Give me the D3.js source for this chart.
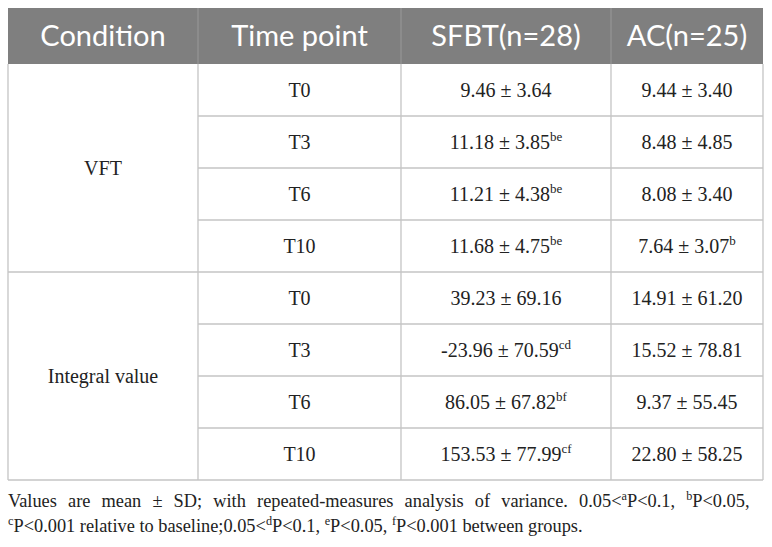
<!DOCTYPE html>
<html>
<head>
<meta charset="utf-8">
<script src="https://cdn.jsdelivr.net/npm/d3@7"></script>
<style>
  body { margin: 0; background: #fff; }
  svg { display: block; }
</style>
</head>
<body>
<svg id="table"></svg>
<script>
// table content
var headers = ["Condition", "Time point", "SFBT(n=28)", "AC(n=25)"];
var conditions = ["VFT", "Integral value"];
var timePoints = ["T0", "T3", "T6", "T10"];

// SFBT group, rows: VFT T0..T10 then Integral T0..T10
var sfbtMean = [9.46, 11.18, 11.21, 11.68, 39.23, -23.96, 86.05, 153.53];
var sfbtSD   = [3.64, 3.85, 4.38, 4.75, 69.16, 70.59, 67.82, 77.99];
var sfbtSup  = ["", "be", "be", "be", "", "cd", "bf", "cf"];

// AC group
var acMean = [9.44, 8.48, 8.08, 7.64, 14.91, 15.52, 9.37, 22.80];
var acSD   = [3.40, 4.85, 3.40, 3.07, 61.20, 78.81, 55.45, 58.25];
var acSup  = ["", "", "", "b", "", "", "", ""];

// footnote, pieces are [text, isSuperscript]
var note1 = [["Values are mean \u00b1 SD; with repeated-measures analysis of variance. 0.05<", 0], ["a", 1],
             ["P<0.1, ", 0], ["b", 1], ["P<0.05,", 0]];
var note2 = [["c", 1], ["P<0.001 relative to baseline;0.05<", 0], ["d", 1], ["P<0.1, ", 0], ["e", 1],
             ["P<0.05, ", 0], ["f", 1], ["P<0.001 between groups.", 0]];

var width = 772, height = 547;
var colEdges = [8, 198, 401, 611, 763];
var headTop = 8, headBottom = 64, tableBottom = 480;
var lineColor = "#c4c4c4";
var serif = "'Liberation Serif', 'Times New Roman', serif";
// plain hyphen for negatives, as in the source table
var fmt = d3.formatLocale({decimal: ".", thousands: ",", grouping: [3], currency: ["", ""], minus: "-"}).format(".2f");

var svg = d3.select("#table").attr("width", width).attr("height", height);
svg.append("rect").attr("width", width).attr("height", height).attr("fill", "#fff");

// one band per body row
var rows = d3.range(sfbtMean.length);
var y = d3.scaleBand().domain(rows).range([headBottom, tableBottom]);
var colMid = function(i) { return (colEdges[i] + colEdges[i + 1]) / 2; };

// header band
svg.append("rect")
  .attr("x", colEdges[0]).attr("y", headTop)
  .attr("width", colEdges[4] - colEdges[0]).attr("height", headBottom - headTop)
  .attr("fill", "#7f7f7f");

svg.selectAll(".head")
  .data(headers)
  .enter().append("text")
  .attr("class", "head")
  .attr("x", function(d, i) { return colMid(i); })
  .attr("y", headTop + 38)
  .attr("text-anchor", "middle")
  .attr("fill", "#fff")
  .style("font-family", "Lato, 'Open Sans', sans-serif")
  .style("font-size", "29px")
  .text(function(d) { return d; });

// header vertical separators
svg.selectAll(".headSep")
  .data(colEdges.slice(1, 4))
  .enter().append("line")
  .attr("x1", function(d) { return d; }).attr("x2", function(d) { return d; })
  .attr("y1", headTop).attr("y2", headBottom)
  .attr("stroke", "#9a9a9a").attr("stroke-width", 1);

// body grid: row lines (columns 1..3 on every row, full width at the group break)
var g = svg.append("g").attr("stroke", lineColor).attr("stroke-width", 1.3);
rows.forEach(function(r) {
  if (r === 0) return;
  var full = r % timePoints.length === 0;
  g.append("line")
    .attr("x1", full ? colEdges[0] : colEdges[1]).attr("x2", colEdges[4])
    .attr("y1", y(r)).attr("y2", y(r));
});
g.append("line").attr("x1", colEdges[0]).attr("x2", colEdges[4])
  .attr("y1", tableBottom).attr("y2", tableBottom);
colEdges.forEach(function(x) {
  g.append("line").attr("x1", x).attr("x2", x)
    .attr("y1", headBottom).attr("y2", tableBottom);
});

// condition labels spanning their rows
svg.selectAll(".cond")
  .data(conditions)
  .enter().append("text")
  .attr("class", "cond")
  .attr("x", colMid(0))
  .attr("y", function(d, i) {
    var top = y(i * timePoints.length);
    var bot = y((i + 1) * timePoints.length - 1) + y.bandwidth();
    return (top + bot) / 2 + 7;
  })
  .attr("text-anchor", "middle")
  .attr("fill", "#222")
  .style("font-family", serif)
  .style("font-size", "20px")
  .text(function(d) { return d; });

// body cells
function addCell(col, r, mainText, sup) {
  var t = svg.append("text")
    .attr("x", colMid(col))
    .attr("y", y(r) + y.bandwidth() / 2 + 7)
    .attr("text-anchor", "middle")
    .attr("fill", "#222")
    .style("font-family", serif)
    .style("font-size", "20px");
  t.append("tspan").text(mainText);
  if (sup) {
    t.append("tspan").attr("dy", -8).style("font-size", "13px").text(sup);
  }
}

rows.forEach(function(r) {
  addCell(1, r, timePoints[r % timePoints.length], "");
  addCell(2, r, fmt(sfbtMean[r]) + " \u00b1 " + fmt(sfbtSD[r]), sfbtSup[r]);
  addCell(3, r, fmt(acMean[r]) + " \u00b1 " + fmt(acSD[r]), acSup[r]);
});

// footnote
function addNote(pieces, baseline) {
  var t = svg.append("text")
    .attr("x", colEdges[0])
    .attr("y", baseline)
    .attr("fill", "#222")
    .style("font-family", serif)
    .style("font-size", "19.5px");
  var raised = false;
  pieces.forEach(function(p) {
    var dy = 0;
    if (p[1] && !raised) { dy = -7; raised = true; }
    else if (!p[1] && raised) { dy = 7; raised = false; }
    var s = t.append("tspan").attr("dy", dy).text(p[0]);
    if (p[1]) s.style("font-size", "13px");
  });
  return t;
}
var n1 = addNote(note1, 507);
var n2 = addNote(note2, 532);

// condensed face: squeeze so the last line ends where the original does,
// then justify the first line to the table width with extra word spacing
var sx = (583 - colEdges[0]) / n2.node().getComputedTextLength();
var spaces = note1.map(function(p) { return p[0]; }).join("").split(" ").length - 1;
var extra = ((750 - colEdges[0]) / sx - n1.node().getComputedTextLength()) / spaces;
n1.style("word-spacing", extra + "px");
[n1, n2].forEach(function(n) {
  n.attr("transform", "translate(" + colEdges[0] + ",0) scale(" + sx + ",1) translate(" + (-colEdges[0]) + ",0)");
});
</script>
</body>
</html>
